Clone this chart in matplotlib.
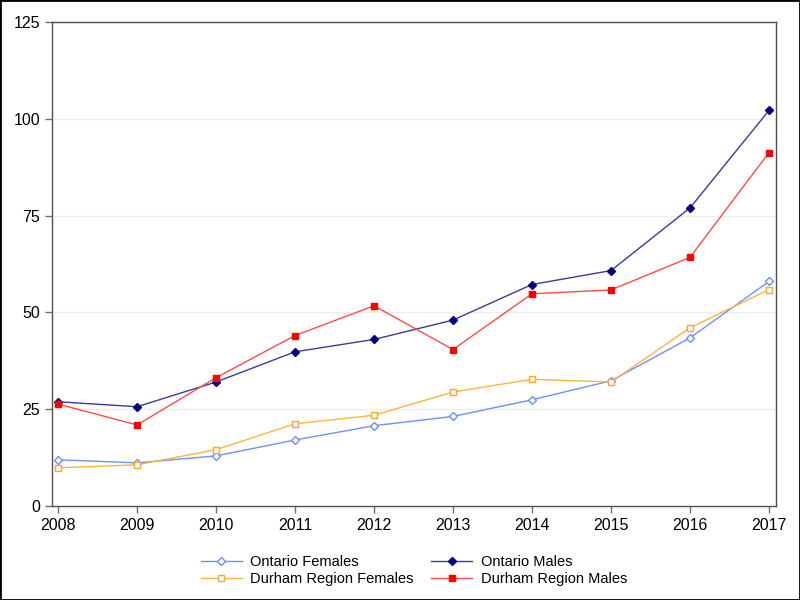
import matplotlib
matplotlib.use("Agg")
import matplotlib.pyplot as plt
from matplotlib.patches import Rectangle

years = [2008, 2009, 2010, 2011, 2012, 2013, 2014, 2015, 2016, 2017]
ontario_females = [11.9, 11.1, 12.9, 17.0, 20.7, 23.1, 27.4, 32.3, 43.4, 58.0]
ontario_males = [26.9, 25.6, 32.0, 39.8, 43.0, 48.0, 57.2, 60.8, 77.0, 102.2]
durham_females = [9.8, 10.6, 14.5, 21.2, 23.4, 29.4, 32.7, 32.0, 46.0, 55.9]
durham_males = [26.3, 20.9, 33.1, 44.0, 51.7, 40.4, 54.8, 55.8, 64.2, 91.3]
yticks = [0, 25, 50, 75, 100, 125]

plt.rcParams['font.family'] = ['Liberation Sans', 'DejaVu Sans']

fig = plt.figure(figsize=(8, 6), dpi=100)
ax = fig.add_axes([0.065, 0.157, 0.905, 0.806])

h_of, = ax.plot(years, ontario_females, color='#6F8FFF', lw=1, marker='D', ms=4,
                mfc='white', mec='#6F8FFF', mew=1, label='Ontario Females')
h_om, = ax.plot(years, ontario_males, color='#3B3B9A', lw=1, marker='D', ms=4.2,
                mfc='#000080', mec='#000080', label='Ontario Males')
h_df, = ax.plot(years, durham_females, color='#FFB340', lw=1, marker='s', ms=4.5,
                mfc='white', mec='#FFA726', mew=1, label='Durham Region Females')
h_dm, = ax.plot(years, durham_males, color='#FF4B4B', lw=1, marker='s', ms=4.8,
                mfc='#FF0000', mec='#FF0000', label='Durham Region Males')

ax.set_xlim(2008 - 6/79, 2017 + 7/79)
ax.set_ylim(0, 125)
ax.set_xticks(years)
ax.set_yticks(yticks)
ax.tick_params(axis='both', labelsize=11.5, direction='out', length=5,
               color='#707070', width=1)
for y in yticks[1:-1]:
    ax.axhline(y, color='#EEEEEE', lw=1, zorder=0)
for s in ax.spines.values():
    s.set_color('#505050')
    s.set_linewidth(1)

handles = [h_of, h_df, h_om, h_dm]
leg = ax.legend(handles=handles, labels=[h.get_label() for h in handles],
                loc='upper center', bbox_to_anchor=(0.5, -0.075), ncol=2,
                frameon=False, fontsize=10.5, handlelength=2.8,
                columnspacing=1.2, handletextpad=0.6, labelspacing=0.2)

fig.patches.append(Rectangle((0, 0), 1, 1, transform=fig.transFigure,
                             fill=False, edgecolor='black', lw=2))

fig.savefig('out.png', dpi=100)
